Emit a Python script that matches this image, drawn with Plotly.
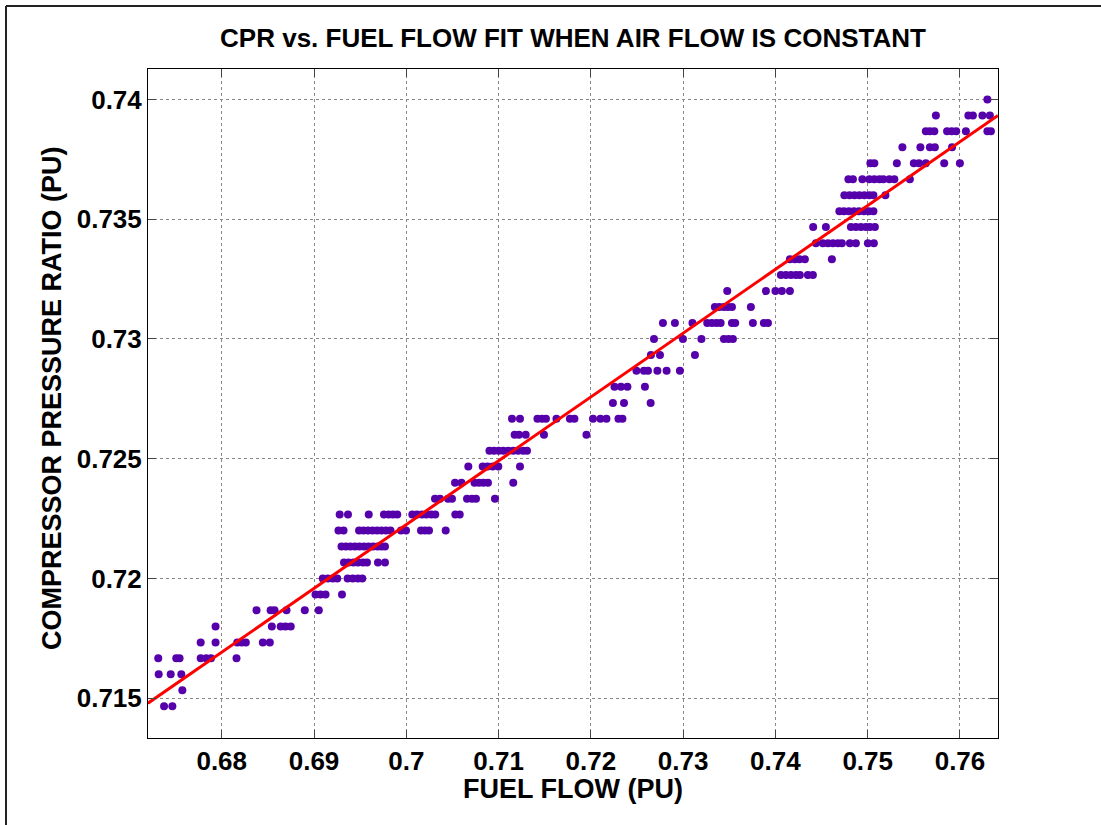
import plotly.graph_objects as go

# Compressor pressure ratio levels (PU) and the fuel-flow samples (PU) recorded at each level
cpr_levels = [
    0.74000, 0.73933, 0.73867, 0.73800, 0.73733, 0.73667, 0.73600, 0.73533,
    0.73467, 0.73400, 0.73333, 0.73267, 0.73200, 0.73133, 0.73067, 0.73000,
    0.72933, 0.72867, 0.72800, 0.72733, 0.72667, 0.72600, 0.72533, 0.72467,
    0.72400, 0.72333, 0.72267, 0.72200, 0.72133, 0.72067, 0.72000, 0.71933,
    0.71867, 0.71800, 0.71733, 0.71667, 0.71600, 0.71533, 0.71467,
]

fuel_by_level = [
    [0.76297],
    [0.75739, 0.76091, 0.76140, 0.76243, 0.76324],
    [0.75630, 0.75674, 0.75722, 0.75860, 0.75910, 0.75959, 0.76064, 0.76297, 0.76335],
    [0.75376, 0.75571, 0.75674, 0.75728, 0.75914],
    [0.75029, 0.75072, 0.75316, 0.75500, 0.75555, 0.75630, 0.75829, 0.75999],
    [0.74791, 0.74840, 0.74942, 0.75018, 0.75072, 0.75127, 0.75170, 0.75235, 0.75289, 0.75457],
    [0.74747, 0.74802, 0.74856, 0.74910, 0.74964, 0.75018, 0.75062, 0.75192],
    [0.74693, 0.74742, 0.74796, 0.74850, 0.74904, 0.74959, 0.75013, 0.75062],
    [0.74409, 0.74547, 0.74818, 0.74872, 0.74926, 0.74980, 0.75024, 0.75078],
    [0.74439, 0.74514, 0.74569, 0.74623, 0.74677, 0.74720, 0.74807, 0.74872, 0.75002, 0.75067],
    [0.74157, 0.74211, 0.74260, 0.74319, 0.74612],
    [0.74059, 0.74114, 0.74168, 0.74222, 0.74265, 0.74352, 0.74406],
    [0.73478, 0.73897, 0.74000, 0.74070, 0.74157],
    [0.73344, 0.73393, 0.73442, 0.73485, 0.73529, 0.73734],
    [0.72781, 0.72911, 0.73101, 0.73261, 0.73312, 0.73361, 0.73406, 0.73529, 0.73564,
     0.73756, 0.73875, 0.73919],
    [0.72684, 0.72998, 0.73198, 0.73442, 0.73491, 0.73539],
    [0.72651, 0.72749, 0.73128],
    [0.72494, 0.72575, 0.72619, 0.72721, 0.72821, 0.72965],
    [0.72256, 0.72326, 0.72396, 0.72586],
    [0.72239, 0.72359, 0.72648],
    [0.71145, 0.71232, 0.71421, 0.71470, 0.71513, 0.71627, 0.71773, 0.71822, 0.72023,
     0.72104, 0.72169, 0.72299, 0.72342],
    [0.71174, 0.71221, 0.71294, 0.71492, 0.71952],
    [0.70901, 0.70950, 0.71001, 0.71050, 0.71104, 0.71158, 0.71212, 0.71266, 0.71308],
    [0.70672, 0.70828, 0.70880, 0.70936, 0.70997, 0.71232],
    [0.70528, 0.70598, 0.70739, 0.70788, 0.70836, 0.70885, 0.71159],
    [0.70311, 0.70365, 0.70452, 0.70495, 0.70658, 0.70712, 0.70755, 0.70961],
    [0.69278, 0.69368, 0.69593, 0.69758, 0.69809, 0.69856, 0.69902, 0.70065, 0.70116,
     0.70170, 0.70217, 0.70271, 0.70314, 0.70531, 0.70579],
    [0.69265, 0.69320, 0.69488, 0.69536, 0.69585, 0.69634, 0.69683, 0.69731, 0.69780,
     0.69829, 0.69943, 0.69997, 0.70159, 0.70203, 0.70246, 0.70427],
    [0.69298, 0.69347, 0.69395, 0.69444, 0.69493, 0.69542, 0.69590, 0.69639, 0.69688,
     0.69731, 0.69769],
    [0.69325, 0.69374, 0.69428, 0.69477, 0.69531, 0.69574, 0.69693, 0.69769],
    [0.69095, 0.69150, 0.69204, 0.69252, 0.69364, 0.69420, 0.69475, 0.69523],
    [0.69016, 0.69070, 0.69125, 0.69303],
    [0.68377, 0.68530, 0.68572, 0.68702, 0.68900, 0.69052],
    [0.67933, 0.68543, 0.68639, 0.68691, 0.68748],
    [0.67772, 0.67933, 0.68168, 0.68215, 0.68261, 0.68445, 0.68521],
    [0.67312, 0.67507, 0.67543, 0.67772, 0.67832, 0.67884, 0.68160],
    [0.67317, 0.67447, 0.67562],
    [0.67573],
    [0.67375, 0.67465],
]

# Least-squares fit CPR = slope * fuel + intercept
fit_slope = 0.2664
fit_intercept = 0.53577

x_range = [0.67201, 0.76412]
y_range = [0.71334, 0.74127]

x_ticks = [0.68, 0.69, 0.70, 0.71, 0.72, 0.73, 0.74, 0.75, 0.76]
x_tick_text = ["0.68", "0.69", "0.7", "0.71", "0.72", "0.73", "0.74", "0.75", "0.76"]
y_ticks = [0.715, 0.72, 0.725, 0.73, 0.735, 0.74]
y_tick_text = ["0.715", "0.72", "0.725", "0.73", "0.735", "0.74"]

fuel = []
cpr = []
for level, samples in zip(cpr_levels, fuel_by_level):
    for f in samples:
        fuel.append(f)
        cpr.append(level)

fit_x = list(x_range)
fit_y = [fit_slope * v + fit_intercept for v in fit_x]

FONT = "Liberation Sans, Arial, Helvetica, sans-serif"

fig = go.Figure()
fig.add_trace(go.Scatter(
    x=fuel, y=cpr, mode="markers",
    marker=dict(size=8, color="#5500aa", line=dict(width=0)),
    showlegend=False, cliponaxis=True,
))
fig.add_trace(go.Scatter(
    x=fit_x, y=fit_y, mode="lines",
    line=dict(color="#ff0000", width=3),
    showlegend=False,
))

axis_common = dict(
    showline=True, linecolor="#000000", linewidth=1, mirror="ticks",
    ticks="inside", ticklen=8, tickwidth=1, tickcolor="#444444",
    showgrid=True, gridcolor="#888888", gridwidth=1, griddash="dot",
    zeroline=False,
    tickfont=dict(family=FONT, size=26, color="#000000", weight="bold"),
)

fig.update_xaxes(range=x_range, tickvals=x_ticks, ticktext=x_tick_text, **axis_common)
fig.update_yaxes(range=y_range, tickvals=y_ticks, ticktext=y_tick_text, **axis_common)

fig.update_layout(
    width=1101, height=825,
    margin=dict(l=148, r=103, t=69, b=87),
    paper_bgcolor="#ffffff", plot_bgcolor="#ffffff",
    title=dict(
        text="CPR vs. FUEL FLOW FIT WHEN AIR FLOW IS CONSTANT",
        x=0.5, xref="paper", xanchor="center",
        y=1 - 38 / 825, yref="container", yanchor="middle",
        font=dict(family=FONT, size=26, color="#000000", weight="bold"),
    ),
    annotations=[
        dict(text="FUEL FLOW (PU)", x=0.5, y=(738 - 789) / 669,
             xref="paper", yref="paper", xanchor="center", yanchor="middle",
             showarrow=False,
             font=dict(family=FONT, size=27, color="#000000", weight="bold")),
        dict(text="COMPRESSOR PRESSURE RATIO (PU)", x=(52 - 148) / 850, y=(738 - 398) / 669,
             xref="paper", yref="paper", xanchor="center", yanchor="middle",
             textangle=-90, showarrow=False,
             font=dict(family=FONT, size=27, color="#000000", weight="bold")),
    ],
    shapes=[
        dict(type="line", xref="paper", yref="paper",
             x0=(6 - 148) / 850, x1=(1110 - 148) / 850,
             y0=(738 - 6) / 669, y1=(738 - 6) / 669,
             line=dict(color="#222222", width=2)),
        dict(type="line", xref="paper", yref="paper",
             x0=(6 - 148) / 850, x1=(6 - 148) / 850,
             y0=(738 - 6) / 669, y1=(738 - 840) / 669,
             line=dict(color="#222222", width=2)),
    ],
)

fig.write_html("out.html")
